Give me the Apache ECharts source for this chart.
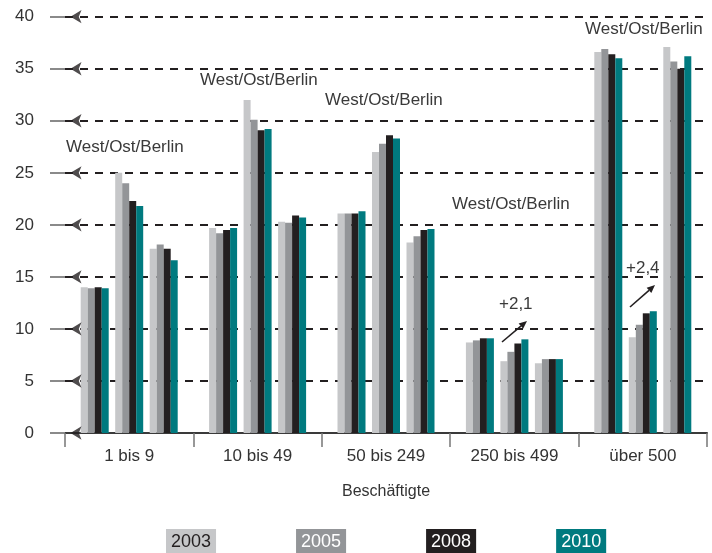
<!DOCTYPE html>
<html><head><meta charset="utf-8">
<script src="https://cdn.jsdelivr.net/npm/echarts@6/dist/echarts.min.js"></script>
<style>html,body{margin:0;padding:0;background:#fff}#c{width:712px;height:553px}</style>
</head><body><div id="c"></div>
<script>
const categories = ['1 bis 9', '10 bis 49', '50 bis 249', '250 bis 499', 'über 500'];
const regions = ['West', 'Ost', 'Berlin'];
const years = ['2003', '2005', '2008', '2010'];
// order inside each size class: West, Ost, Berlin
const v2003 = [14.0, 25.0, 17.7, 19.7, 32.0, 20.3, 21.1, 27.0, 18.3, 8.7, 6.9, 6.7, 36.6, 9.2, 37.1];
const v2005 = [13.9, 24.0, 18.1, 19.2, 30.1, 20.2, 21.1, 27.8, 18.9, 8.9, 7.8, 7.1, 36.9, 10.4, 35.7];
const v2008 = [14.0, 22.3, 17.7, 19.5, 29.1, 20.9, 21.1, 28.6, 19.5, 9.1, 8.6, 7.1, 36.4, 11.5, 35.0];
const v2010 = [13.9, 21.8, 16.6, 19.7, 29.2, 20.7, 21.3, 28.3, 19.6, 9.1, 9.0, 7.1, 36.0, 11.7, 36.2];
const yTicks = [0, 5, 10, 15, 20, 25, 30, 35, 40];
const annotations = ['West/Ost/Berlin', '+2,1', '+2,4'];

const values = [v2003, v2005, v2008, v2010];
const colors = ['#c6c7c9', '#939598', '#231f20', '#007a7f'];
const textColors = ['#231f20', '#ffffff', '#ffffff', '#ffffff'];
const FONT = 'Liberation Sans';

const BAR_FRAC = 7 / 128.4;
const CLUSTER_FRAC = 34.5 / 128.4;

function makeSeries(k) {
  const data = values[k].map((v, idx) => [Math.floor(idx / 3), idx % 3, v]);
  return {
    type: 'custom',
    name: years[k],
    xAxisIndex: 0, yAxisIndex: 0,
    encode: { x: 0, y: 2 },
    itemStyle: { color: colors[k] },
    data: data,
    z: 3,
    renderItem: function (params, api) {
      const g = api.value(0), s = api.value(1), v = api.value(2);
      const base = api.coord([g, 0]);
      const top = api.coord([g, v]);
      const bw = api.size([1, 0])[0];
      const w = bw * BAR_FRAC;
      const cx = base[0] + (s - 1) * bw * CLUSTER_FRAC + (k - 1.5) * w;
      return {
        type: 'rect',
        shape: { x: cx - w / 2, y: top[1], width: w, height: base[1] - top[1] },
        style: { fill: colors[k] }
      };
    }
  };
}

function arrow(x1, y1, x2, y2) {
  const a = Math.atan2(y2 - y1, x2 - x1), L = 8, W = 3.5;
  const bx = x2 - L * Math.cos(a), by = y2 - L * Math.sin(a);
  return [
    { type: 'line', shape: { x1: x1, y1: y1, x2: bx, y2: by }, style: { stroke: '#231f20', lineWidth: 1.6 }, z: 10 },
    { type: 'polygon', shape: { points: [[x2, y2], [bx - W * Math.sin(a), by + W * Math.cos(a)], [bx + W * Math.sin(a), by - W * Math.cos(a)]] }, style: { fill: '#231f20' }, z: 10 }
  ];
}

function label(text, x, y) {
  return { type: 'text', left: x, top: y - 10, z: 10,
    style: { text: text, fill: '#3a3a3a', font: '17px ' + FONT, textVerticalAlign: 'top' } };
}

const chart = echarts.init(document.getElementById('c'), null, { renderer: 'canvas' });
chart.setOption({
  animation: false,
  backgroundColor: '#ffffff',
  textStyle: { fontFamily: FONT },
  grid: { left: 65, right: 5, top: 16.7, bottom: 120, containLabel: false },
  xAxis: [{
    type: 'category', data: categories,
    axisLine: { show: true, lineStyle: { color: '#3a3a3a', width: 2 } },
    axisTick: { show: true, length: 14, lineStyle: { color: '#777', width: 1.5 } },
    axisLabel: { fontSize: 17, color: '#333', margin: 15, fontFamily: FONT },
    name: 'Beschäftigte', nameLocation: 'middle', nameGap: 51,
    nameTextStyle: { fontSize: 16, color: '#333', fontFamily: FONT },
    splitLine: { show: false }
  }, {
    type: 'value', min: 0, max: 5, show: false
  }],
  yAxis: {
    type: 'value', min: 0, max: 40, interval: 5,
    axisLine: { show: false },
    axisTick: { show: true, length: 15, lineStyle: { color: '#8a8a8a', width: 2 } },
    axisLabel: { fontSize: 17, color: '#333', margin: 31, fontFamily: FONT },
    splitLine: { show: true, lineStyle: { color: '#231f20', type: [8, 7], width: 2 } }
  },
  legend: {
    left: 160, top: 529, padding: 0, itemGap: 74, itemWidth: 1, itemHeight: 1, icon: 'none',
    selectedMode: false,
    data: years.map((y, i) => ({ name: y, textStyle: {
      backgroundColor: colors[i], color: textColors[i], padding: [3, 5, 6, 5],
      fontSize: 18, lineHeight: 18, fontFamily: FONT } }))
  },
  series: values.map((v, k) => makeSeries(k)).concat([{
    type: 'scatter', xAxisIndex: 1, yAxisIndex: 0,
    symbol: 'arrow', symbolSize: [10, 11], symbolRotate: 90,
    itemStyle: { color: '#231f20' }, z: 5, silent: true,
    data: yTicks.map(t => [0.043, t])
  }]),
  graphic: [
    label(annotations[0], 66, 149),
    label(annotations[0], 200, 82),
    label(annotations[0], 325, 102),
    label(annotations[0], 452, 206),
    label(annotations[0], 585, 31),
    label(annotations[1], 499, 306),
    label(annotations[2], 626, 270)
  ].concat(arrow(502, 342, 527, 321)).concat(arrow(630, 307, 655, 285))
});
</script>
</body></html>
